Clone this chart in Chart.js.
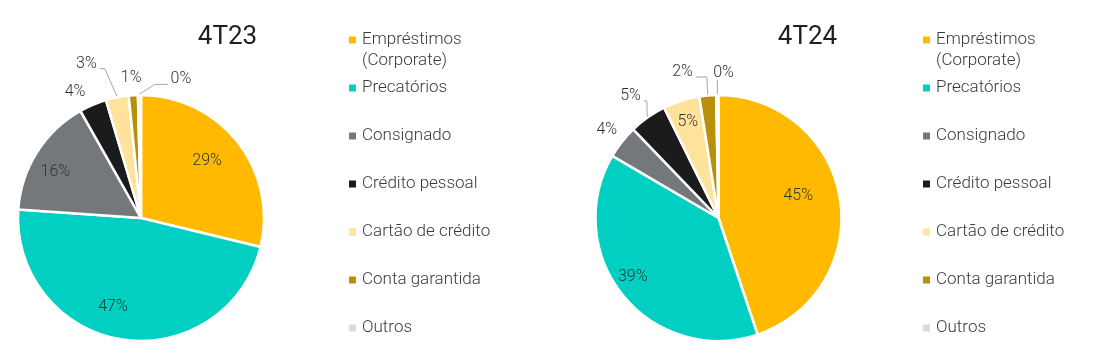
<!DOCTYPE html>
<html><head><meta charset="utf-8">
<script src="https://cdn.jsdelivr.net/npm/chart.js@4"></script>
<style>
html,body{margin:0;padding:0;background:#fff;}
#wrap{position:relative;width:1096px;height:356px;overflow:hidden;}
.c{position:absolute;top:0;width:548px;height:356px;}
</style></head><body>
<div id="wrap">
<div class="c" style="left:0"><canvas id="c1" width="548" height="356"></canvas></div>
<div class="c" style="left:548px"><canvas id="c2" width="548" height="356"></canvas></div>
</div>
<script>
// ---- data ----
const categories = [['Empréstimos','(Corporate)'],'Precatórios','Consignado','Crédito pessoal','Cartão de crédito','Conta garantida','Outros'];
const titles = ['4T23','4T24'];
const values4T23 = [28.8, 47.3, 15.7, 3.6, 3.0, 1.2, 0.4];
const values4T24 = [44.9, 38.6, 4.4, 4.9, 4.8, 2.2, 0.3];
const colors = ['#FFBA00','#00CFC2','#75787B','#1B1B1D','#FFE29C','#B8900B','#DADADA'];

// ---- label placement (angle offset in deg from slice middle, radius factor, leader elbow length) ----
const labelPlace4T23 = [
  {dA:-3, r:0.72}, {dA:8.8, r:0.76}, {dA:-3.5, r:0.80}, {dA:-4.5, r:1.17},
  {dA:-8.2, r:1.35, leader:5}, {dA:-0.4, r:1.16}, {dA:16.7, r:1.19, leader:13}
];
const labelPlace4T24 = [
  {dA:-6.7, r:0.68}, {dA:4.9, r:0.85}, {dA:0.3, r:1.17}, {dA:-0.5, r:1.24, leader:3},
  {dA:0, r:0.83}, {dA:-8.7, r:1.24, leader:11}, {dA:2.5, r:1.2, leader:0}
];

const FONT = 'Roboto, "Noto Sans", sans-serif';

const decoPlugin = {
  id: 'deco',
  afterDatasetsDraw(chart) {
    const o = chart.options.plugins.deco;
    const ctx = chart.ctx;
    const meta = chart.getDatasetMeta(0);
    const data = chart.data.datasets[0].data;
    const total = data.reduce((a, b) => a + b, 0);
    ctx.save();
    // percentage labels
    ctx.font = '300 16px ' + FONT;
    ctx.textAlign = 'center';
    ctx.textBaseline = 'middle';
    meta.data.forEach((arc, i) => {
      const p = arc.getProps(['x','y','startAngle','endAngle','outerRadius'], true);
      const pl = o.place[i];
      const R = p.outerRadius - 1;
      const mid = (p.startAngle + p.endAngle) / 2;
      const a = mid + pl.dA * Math.PI / 180;
      const lx = p.x + Math.cos(a) * R * pl.r;
      const ly = p.y + Math.sin(a) * R * pl.r + 1;
      const txt = Math.round(data[i] / total * 100) + '%';
      ctx.fillStyle = '#333333';
      ctx.fillText(txt, lx, ly);
      if (pl.leader !== undefined) {
        const w = ctx.measureText(txt).width;
        const ex = p.x + Math.cos(mid) * (R + 2);
        const ey = p.y + Math.sin(mid) * (R + 2);
        const yb = ly + 5;
        ctx.strokeStyle = '#A6A6A6';
        ctx.lineWidth = 1;
        ctx.beginPath();
        if (ex > lx + w / 2) {
          const sx = lx + w / 2 + 3;
          ctx.moveTo(sx, yb); ctx.lineTo(sx + pl.leader, yb); ctx.lineTo(ex, ey);
        } else if (ex < lx - w / 2) {
          const sx = lx - w / 2 - 3;
          ctx.moveTo(sx, yb); ctx.lineTo(sx - pl.leader, yb); ctx.lineTo(ex, ey);
        } else {
          ctx.moveTo(ex, yb + 2); ctx.lineTo(ex, ey);
        }
        ctx.stroke();
      }
    });
    // title
    ctx.font = '26px ' + FONT;
    ctx.fillStyle = '#1F1F1F';
    ctx.textAlign = 'center';
    ctx.fillText(o.title, o.titleX, o.titleY);
    // legend
    ctx.font = '300 17px ' + FONT;
    ctx.textAlign = 'left';
    let y = o.legendTop;
    chart.data.labels.forEach((lab, i) => {
      const lines = Array.isArray(lab) ? lab : [lab];
      ctx.fillStyle = chart.data.datasets[0].backgroundColor[i];
      ctx.fillRect(o.legendX, y - 3.5, 7, 7);
      ctx.fillStyle = '#3A3A3A';
      lines.forEach((t, k) => ctx.fillText(t, o.legendX + 13, y + k * 21));
      y += o.legendStep;
    });
    ctx.restore();
  }
};

function makeChart(id, values, title, place, cx, legendX, titleX) {
  const R = 122;
  return new Chart(document.getElementById(id), {
    type: 'pie',
    data: {
      labels: categories,
      datasets: [{
        data: values,
        backgroundColor: colors,
        borderColor: '#ffffff',
        borderWidth: 2.5
      }]
    },
    options: {
      responsive: false,
      animation: false,
      events: [],
      radius: R + 1,
      layout: { padding: { left: cx - R, right: 548 - cx - R, top: 96, bottom: 16 } },
      plugins: {
        legend: { display: false },
        tooltip: { enabled: false },
        title: { display: false },
        deco: { title: title, titleX: titleX, titleY: 37, legendX: legendX, legendTop: 40, legendStep: 48, place: place }
      }
    },
    plugins: [decoPlugin]
  });
}

makeChart('c1', values4T23, titles[0], labelPlace4T23, 141, 349, 227.5);
makeChart('c2', values4T24, titles[1], labelPlace4T24, 170.5, 375, 259.5);
</script>
</body></html>
